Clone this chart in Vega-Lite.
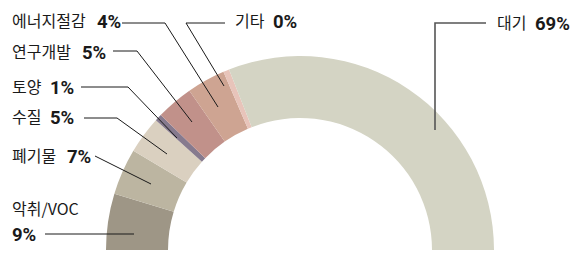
{
  "$schema": "https://vega.github.io/schema/vega-lite/v6.json",
  "width": 581,
  "height": 253,
  "padding": 0,
  "autosize": {"type": "none"},
  "background": "white",
  "config": {"view": {"stroke": null}, "font": "Noto Sans CJK KR"},
  "datasets": {
    "slices": [
      {"idx": 1, "category": "악취/VOC", "share": 17.0, "label": "9%"},
      {"idx": 2, "category": "폐기물", "share": 14.0, "label": "7%"},
      {"idx": 3, "category": "수질", "share": 11.3, "label": "5%"},
      {"idx": 4, "category": "토양", "share": 2.1, "label": "1%"},
      {"idx": 5, "category": "연구개발", "share": 11.2, "label": "5%"},
      {"idx": 6, "category": "에너지절감", "share": 11.6, "label": "4%"},
      {"idx": 7, "category": "기타", "share": 1.8, "label": "0%"},
      {"idx": 8, "category": "대기", "share": 112.2, "label": "69%"}
    ],
    "labels": [
      {"category": "에너지절감", "name": "에너지절감", "pct": "4%", "nx": -288, "ny": 228.3, "px": -203, "py": 228.3},
      {"category": "기타", "name": "기타", "pct": "0%", "nx": -65, "ny": 228.3, "px": -27, "py": 228.3},
      {"category": "연구개발", "name": "연구개발", "pct": "5%", "nx": -288, "ny": 197, "px": -218, "py": 197},
      {"category": "토양", "name": "토양", "pct": "1%", "nx": -288, "ny": 162, "px": -250, "py": 162},
      {"category": "수질", "name": "수질", "pct": "5%", "nx": -288, "ny": 132, "px": -250, "py": 132},
      {"category": "폐기물", "name": "폐기물", "pct": "7%", "nx": -288, "ny": 93, "px": -233, "py": 93},
      {"category": "악취/VOC", "name": "악취/VOC", "pct": "9%", "nx": -288, "ny": 40, "px": -288, "py": 15},
      {"category": "대기", "name": "대기", "pct": "69%", "nx": 197, "ny": 225.8, "px": 235, "py": 225.8}
    ],
    "leaders": [
      {"category": "에너지절감", "step": 1, "x": -178, "y": 227},
      {"category": "에너지절감", "step": 2, "x": -135, "y": 227},
      {"category": "에너지절감", "step": 3, "x": -82, "y": 143},
      {"category": "기타", "step": 1, "x": -75, "y": 227},
      {"category": "기타", "step": 2, "x": -114, "y": 227},
      {"category": "기타", "step": 3, "x": -76, "y": 164},
      {"category": "연구개발", "step": 1, "x": -187, "y": 199},
      {"category": "연구개발", "step": 2, "x": -163, "y": 199},
      {"category": "연구개발", "step": 3, "x": -108, "y": 128},
      {"category": "토양", "step": 1, "x": -219, "y": 163},
      {"category": "토양", "step": 2, "x": -172, "y": 163},
      {"category": "토양", "step": 3, "x": -123, "y": 112},
      {"category": "수질", "step": 1, "x": -216, "y": 132},
      {"category": "수질", "step": 2, "x": -183, "y": 132},
      {"category": "수질", "step": 3, "x": -133, "y": 96},
      {"category": "폐기물", "step": 1, "x": -205, "y": 94},
      {"category": "폐기물", "step": 2, "x": -149, "y": 66},
      {"category": "악취/VOC", "step": 1, "x": -255, "y": 16},
      {"category": "악취/VOC", "step": 2, "x": -166, "y": 16}
    ],
    "leaderMain": [
      {"category": "대기", "step": 1, "x": 186, "y": 227},
      {"category": "대기", "step": 2, "x": 135, "y": 227},
      {"category": "대기", "step": 3, "x": 135, "y": 120}
    ]
  },
  "layer": [
    {
      "data": {"name": "slices"},
      "mark": {
        "type": "arc",
        "innerRadius": 132,
        "outerRadius": 194,
        "x": {"expr": "scale('x', 0)"},
        "y": {"expr": "scale('y', 0)"}
      },
      "encoding": {
        "theta": {"field": "share", "type": "quantitative", "stack": true, "scale": {"range": [-1.5708, 1.5708]}},
        "order": {"field": "idx", "type": "quantitative"},
        "color": {
          "field": "category",
          "type": "nominal",
          "scale": {
            "domain": ["악취/VOC", "폐기물", "수질", "토양", "연구개발", "에너지절감", "기타", "대기"],
            "range": ["#9e9686", "#bcb5a1", "#dad0c0", "#867a8e", "#c1918a", "#cea492", "#e8c4ba", "#d4d4c4"]
          },
          "legend": null
        }
      }
    },
    {
      "data": {"name": "leaders"},
      "mark": {"type": "line", "color": "#1a1a1a", "strokeWidth": 1},
      "encoding": {
        "x": {"field": "x", "type": "quantitative", "scale": {"domain": [-300, 281], "nice": false, "zero": false}, "axis": null},
        "y": {"field": "y", "type": "quantitative", "scale": {"domain": [-3, 250], "nice": false, "zero": false}, "axis": null},
        "detail": {"field": "category", "type": "nominal"},
        "order": {"field": "step", "type": "quantitative"}
      }
    },
    {
      "data": {"name": "leaderMain"},
      "mark": {"type": "line", "color": "#555555", "strokeWidth": 1.6},
      "encoding": {
        "x": {"field": "x", "type": "quantitative"},
        "y": {"field": "y", "type": "quantitative"},
        "order": {"field": "step", "type": "quantitative"}
      }
    },
    {
      "data": {"name": "labels"},
      "mark": {"type": "text", "align": "left", "baseline": "middle", "fontSize": 16, "color": "#1a1a1a"},
      "encoding": {
        "x": {"field": "nx", "type": "quantitative"},
        "y": {"field": "ny", "type": "quantitative"},
        "text": {"field": "name", "type": "nominal"}
      }
    },
    {
      "data": {"name": "labels"},
      "mark": {"type": "text", "align": "left", "baseline": "middle", "fontSize": 18.5, "fontWeight": "bold", "font": "Roboto", "color": "#1a1a1a"},
      "encoding": {
        "x": {"field": "px", "type": "quantitative"},
        "y": {"field": "py", "type": "quantitative"},
        "text": {"field": "pct", "type": "nominal"}
      }
    }
  ]
}
